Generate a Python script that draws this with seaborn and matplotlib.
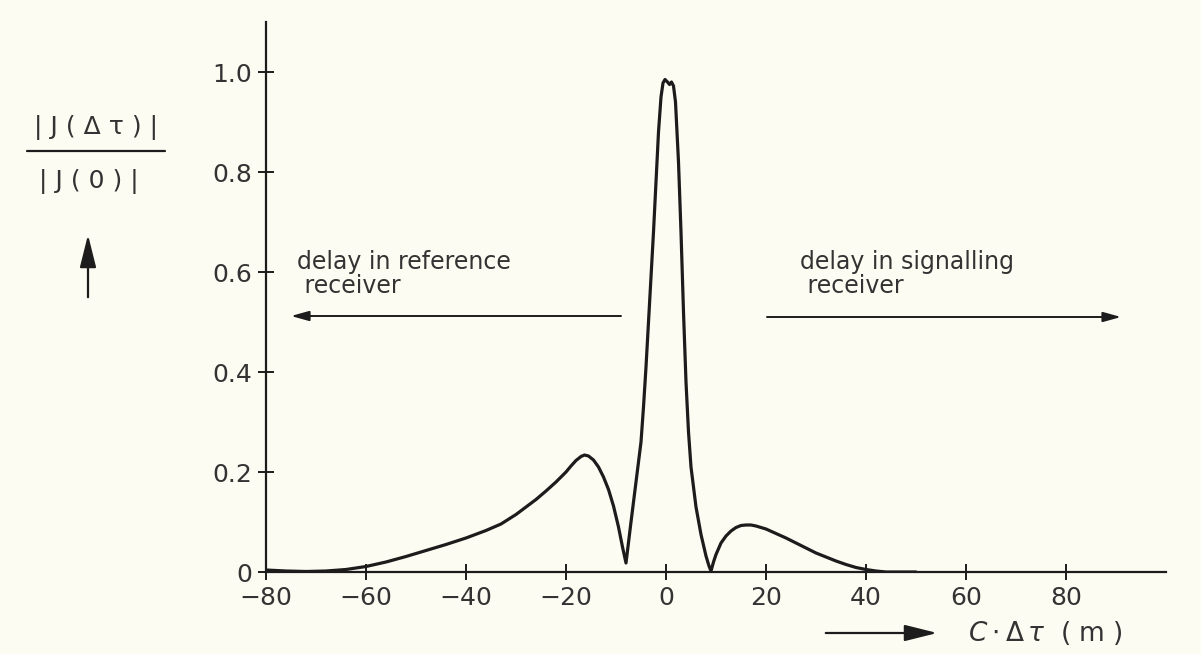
import matplotlib
matplotlib.use("Agg")
import matplotlib.pyplot as plt
from matplotlib.patches import FancyArrowPatch
import seaborn as sns
import pandas as pd

# Normalised correlation magnitude |J(Δτ)| / |J(0)| against path difference C·Δτ (m)
delay_m = [-80, -76, -72, -68, -64, -60, -56, -52, -48, -44, -40, -36, -33,
           -30, -28, -26, -24, -22, -20, -19, -18, -17, -16.3, -15.5, -14.5,
           -13.5, -12.5, -11.5, -10.5, -9.5, -8.7, -8,
           -7, -6, -5, -4.5, -4, -3.5, -3, -2.5, -2, -1.5, -1, -0.6, -0.2,
           0.3, 0.7, 1.1, 1.5, 1.9, 2.5, 3, 3.5, 4, 4.5, 5, 6, 7, 8, 8.6, 9,
           9.5, 10, 11, 12, 13, 14, 15, 16, 17, 18, 20, 22, 24, 26, 28, 30,
           32, 34, 36, 38, 40, 42, 44, 50]
ratio = [0.004, 0.002, 0.001, 0.002, 0.005, 0.011, 0.02, 0.031, 0.043, 0.055,
         0.068, 0.083, 0.096,
         0.115, 0.13, 0.145, 0.162, 0.18, 0.2, 0.212, 0.223, 0.231, 0.234,
         0.232, 0.224, 0.21, 0.19, 0.165, 0.132, 0.09, 0.05, 0.018,
         0.1, 0.18, 0.26, 0.33, 0.41, 0.5, 0.59, 0.68, 0.78, 0.88, 0.95,
         0.978, 0.985,
         0.98, 0.975, 0.98, 0.972, 0.94, 0.82, 0.68, 0.52, 0.38, 0.28, 0.21,
         0.13, 0.075, 0.032, 0.012, 0.002,
         0.02, 0.035, 0.058, 0.072, 0.082, 0.089, 0.093, 0.094, 0.094, 0.092,
         0.086, 0.077, 0.068, 0.058, 0.048, 0.038, 0.03, 0.022, 0.015, 0.009,
         0.005, 0.002, 0.0, 0.0]

x_ticks = [-80, -60, -40, -20, 0, 20, 40, 60, 80]
x_tick_labels = ["\u221280", "\u221260", "\u221240", "\u221220", "0", "20", "40", "60", "80"]
y_ticks = [0, 0.2, 0.4, 0.6, 0.8, 1.0]
y_tick_labels = ["0", "0.2", "0.4", "0.6", "0.8", "1.0"]

left_note = "delay in reference\n receiver"
right_note = "delay in signalling\n receiver"

INK = "#1c1c1c"
TEXT = "#333333"
PAPER = "#fdfcf3"
W, H = 1201, 654

sns.set_theme(style="ticks")
plt.rcParams["font.family"] = ["DejaVu Sans"]

fig = plt.figure(figsize=(W / 100, H / 100), dpi=100, facecolor=PAPER)
ax = fig.add_axes([266 / W, 82 / H, 900 / W, 550 / H], facecolor=PAPER)

df = pd.DataFrame({"delay": delay_m, "ratio": ratio})
sns.lineplot(data=df, x="delay", y="ratio", sort=False, estimator=None,
             color=INK, linewidth=2.3, ax=ax)
ax.lines[-1].set_solid_joinstyle("round")

ax.set_xlim(-80, 100)
ax.set_ylim(0, 1.1)
ax.set_xticks(x_ticks)
ax.set_xticklabels(x_tick_labels)
ax.set_yticks(y_ticks)
ax.set_yticklabels(y_tick_labels)
ax.set_xlabel("")
ax.set_ylabel("")

for side in ("top", "right"):
    ax.spines[side].set_visible(False)
for side in ("left", "bottom"):
    ax.spines[side].set_color(INK)
    ax.spines[side].set_linewidth(1.6)

ax.tick_params(axis="both", direction="inout", length=12, width=1.4,
               color=INK, labelcolor=TEXT, labelsize=18)
ax.tick_params(axis="x", pad=4)
ax.tick_params(axis="y", pad=4)

# direction annotations
arrow_style = "-|>,head_length=0.9,head_width=0.25"
ax.annotate("", xy=(-75, 0.512), xytext=(-9, 0.512),
            arrowprops=dict(arrowstyle=arrow_style, color=INK, lw=1.4,
                            shrinkA=0, shrinkB=0))
ax.annotate("", xy=(91, 0.51), xytext=(20.2, 0.51),
            arrowprops=dict(arrowstyle=arrow_style, color=INK, lw=1.4,
                            shrinkA=0, shrinkB=0))
ax.text(-73.8, 0.645, left_note, fontsize=17, color=TEXT,
        va="top", ha="left", linespacing=1.05)
ax.text(26.8, 0.645, right_note, fontsize=17, color=TEXT,
        va="top", ha="left", linespacing=1.05)


def fx(px):
    return px / W


def fy(py):
    return 1 - py / H


# y-axis quantity written as a fraction, with an upward arrow
fig.text(fx(96), fy(127), "| J ( \u0394 \u03c4 ) |", fontsize=18, color=TEXT,
         ha="center", va="center")
fig.add_artist(plt.Line2D([fx(27), fx(165)], [fy(151), fy(151)],
                          color=INK, linewidth=1.6))
fig.text(fx(89), fy(181), "| J ( 0 ) |", fontsize=18, color=TEXT,
         ha="center", va="center")
fig.add_artist(FancyArrowPatch(
    (fx(88), fy(300)), (fx(88), fy(232)), transform=fig.transFigure,
    arrowstyle="-|>,head_length=1.0,head_width=0.25", color=INK, lw=1.6,
    mutation_scale=20))

# x-axis quantity with a rightward arrow
fig.add_artist(FancyArrowPatch(
    (fx(823), fy(633)), (fx(940), fy(633)), transform=fig.transFigure,
    arrowstyle="-|>,head_length=1.0,head_width=0.25", color=INK, lw=1.6,
    mutation_scale=20))
fig.text(fx(968), fy(633), r"$C\cdot\mathit{\Delta}\,\tau$  ( m )", fontsize=19,
         color=TEXT, ha="left", va="center")

fig.savefig("out.png", dpi=100, facecolor=PAPER)
